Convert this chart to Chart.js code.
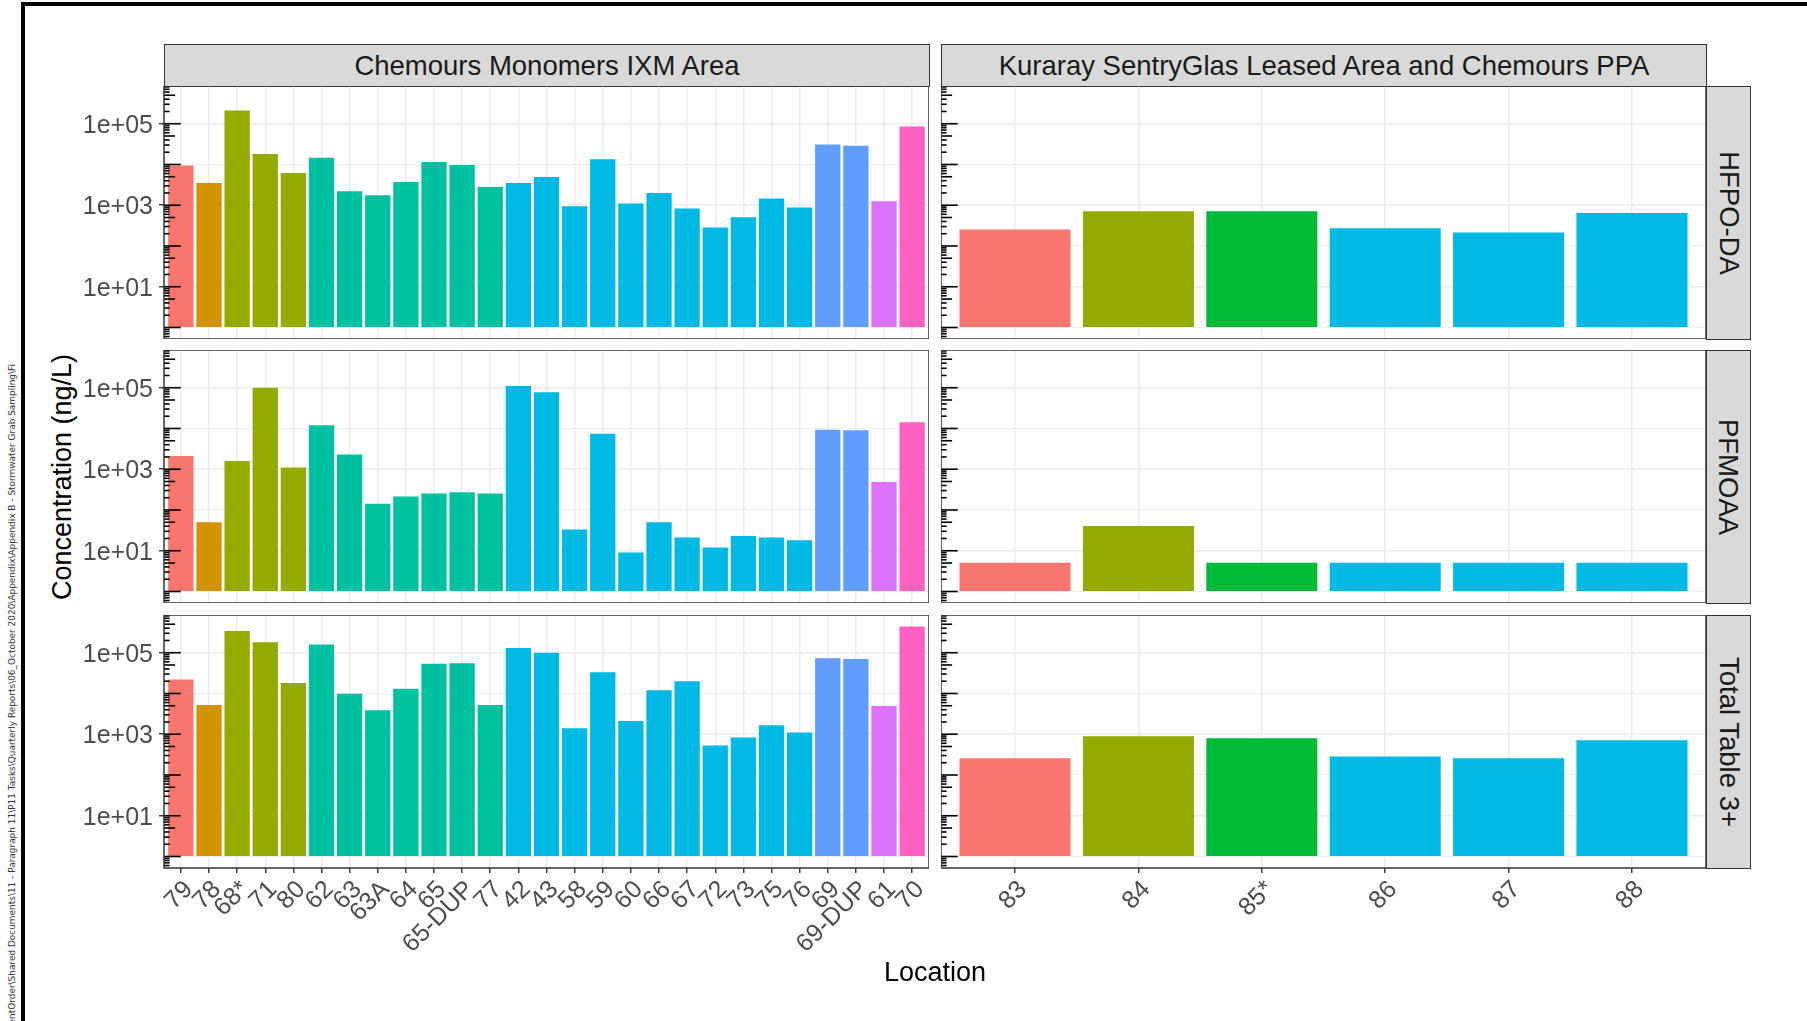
<!DOCTYPE html>
<html>
<head>
<meta charset="utf-8">
<title>Concentration by Location</title>
<script src="https://cdn.jsdelivr.net/npm/chart.js@4.4.0/dist/chart.umd.min.js"></script>
<style>
  body { margin: 0; width: 1807px; height: 1021px; background: #fff; overflow: hidden; position: relative;
         font-family: "Liberation Sans", Arial, sans-serif; }
  canvas { position: absolute; }
  .frame { position: absolute; background: #000; }
  .strip { position: absolute; box-sizing: border-box; background: #d9d9d9; border: 1.5px solid #333;
           color: #1a1a1a; font-size: 27.5px; display: flex; align-items: center; justify-content: center; white-space: nowrap; }
  .strip.side span { transform: rotate(90deg); }
  .title { position: absolute; color: #000; font-size: 27px; white-space: nowrap; transform: translate(-50%, -50%); }
  .path { position: absolute; font-family: "DejaVu Sans", sans-serif; font-size: 8.95px; color: #333; white-space: nowrap;
          transform-origin: 0 0; transform: rotate(-90deg) translate(-100%, -50%); }
</style>
</head>
<body>
<div class="frame" style="left:21px; top:2px; width:1786px; height:4px;"></div>
<div class="frame" style="left:21px; top:2px; width:4px; height:1019px;"></div>
<div class="path" style="left:12px; top:364px;">entOrder\Shared Documents\11 - Paragraph 11\P11 Tasks\Quarterly Reports\06_October 2020\Appendix\Appendix B - Stormwater Grab Sampling\Fi</div>

<script>
const leftLocations = ['79', '78', '68*', '71', '80', '62', '63', '63A', '64', '65', '65-DUP', '77', '42', '43',
    '58', '59', '60', '66', '67', '72', '73', '75', '76', '69', '69-DUP', '61', '70'];
const rightLocations = ['83', '84', '85*', '86', '87', '88'];

// fill group of each location (index into palette)
const leftGroups = [0, 1, 2, 2, 2, 4, 4, 4, 4, 4, 4, 4, 5, 5, 5, 5, 5, 5, 5, 5, 5, 5, 5, 6, 6, 7, 8];
const rightGroups = [0, 2, 3, 5, 5, 5];

const hfpoLeft = [9500, 3500, 210000, 18000, 6200, 14700, 2200, 1760, 3700, 11500, 9700, 2800, 3500, 4900,
    950, 13400, 1100, 2000, 830, 284, 508, 1460, 877, 31000, 29000, 1250, 86000];
const hfpoRight = [254, 713, 713, 273, 214, 649];

const pfmoaLeft = [2100, 50, 1600, 100000, 1100, 12000, 2300, 142, 214, 253, 272, 253, 110000, 77000,
    33, 7400, 9.1, 50, 21, 12, 23, 21, 18, 9300, 9000, 487, 14300];
const pfmoaRight = [5.1, 40.5, 5.1, 5.1, 5.1, 5.1];

const totalLeft = [22000, 5200, 340000, 180000, 18000, 160000, 9900, 3900, 13000, 54000, 55000, 5200, 130000, 100000,
    1400, 33000, 2100, 12000, 20000, 527, 828, 1660, 1100, 73000, 70000, 4900, 440000];
const totalRight = [258, 893, 798, 284, 258, 713];

const yTickValues = [1, 10, 100, 1000, 10000, 100000];
const yTickLabels = ['', '1e+01', '', '1e+03', '', '1e+05'];

const facetCols = ['Chemours Monomers IXM Area', 'Kuraray SentryGlas Leased Area and Chemours PPA'];
const facetRows = ['HFPO-DA', 'PFMOAA', 'Total Table 3+'];

const palette = ['#F8766D', '#D39200', '#93AA00', '#00BA38', '#00C19F', '#00B9E3', '#619CFF', '#DB72FB', '#FF61C3'];

// layout
const colLeft = [164, 941];
const panelW = 765;
const rowTop = [86, 350, 615];
const panelH = 253;
const axisW = 84;
const axisH = 120;
const fontFamily = '"Liberation Sans", Arial, sans-serif';

// ggplot style 5% expansion of the log range, bars start at 1
const seriesTable = [[hfpoLeft, hfpoRight], [pfmoaLeft, pfmoaRight], [totalLeft, totalRight]];
const maxLog = Math.log10(Math.max(...seriesTable.flat(2)));
const yMin = Math.pow(10, -0.05 * maxLog);
const yMax = Math.pow(10, 1.05 * maxLog);

function isMajor(v) {
    return v === 10 || v === 1000 || v === 100000;
}

// keep the plot area fixed: no extra room for overflowing labels
function fixSize(axis, size) {
    if (axis.isHorizontal()) {
        axis.height = size;
    } else {
        axis.width = size;
    }
    axis.paddingTop = 0;
    axis.paddingBottom = 0;
    axis.paddingLeft = 0;
    axis.paddingRight = 0;
}

const logTicks = {
    id: 'logTicks',
    afterDatasetsDraw(chart) {
        const { ctx, chartArea: a, scales: { y } } = chart;
        ctx.save();
        ctx.strokeStyle = '#000';
        ctx.lineWidth = 1.6;
        for (let k = -1; k <= 6; k++) {
            for (let m = 1; m <= 9; m++) {
                const v = m * Math.pow(10, k);
                if (v < yMin || v > yMax) continue;
                const py = y.getPixelForValue(v);
                const len = m === 1 ? 16.7 : (m === 5 ? 11.1 : 5.6);
                ctx.beginPath();
                ctx.moveTo(a.left, py);
                ctx.lineTo(a.left + len, py);
                ctx.stroke();
            }
        }
        ctx.restore();
    }
};

const panelBorder = {
    id: 'panelBorder',
    afterDraw(chart) {
        const { ctx, chartArea: a } = chart;
        ctx.save();
        ctx.strokeStyle = '#333';
        ctx.lineWidth = 1.5;
        ctx.strokeRect(a.left, a.top, a.right - a.left, a.bottom - a.top);
        ctx.restore();
    }
};

function addDiv(cls, style, text, inner) {
    const d = document.createElement('div');
    d.className = cls;
    d.style.cssText = style;
    if (inner) {
        const s = document.createElement('span');
        s.textContent = text;
        d.appendChild(s);
    } else {
        d.textContent = text;
    }
    document.body.appendChild(d);
}

function drawPanel(row, col) {
    const labels = col === 0 ? leftLocations : rightLocations;
    const groups = col === 0 ? leftGroups : rightGroups;
    const values = seriesTable[row][col];
    const showY = col === 0;
    const showX = row === 2;

    const canvas = document.createElement('canvas');
    canvas.width = panelW + (showY ? axisW : 0);
    canvas.height = panelH + (showX ? axisH : 0);
    canvas.style.left = (colLeft[col] - (showY ? axisW : 0)) + 'px';
    canvas.style.top = rowTop[row] + 'px';
    document.body.appendChild(canvas);

    new Chart(canvas.getContext('2d'), {
        type: 'bar',
        data: {
            datasets: [{
                data: values.map((v, i) => ({ x: i, y: v })),
                backgroundColor: groups.map(g => palette[g]),
                base: 1,
                categoryPercentage: 1,
                barPercentage: 0.9
            }]
        },
        options: {
            responsive: false,
            animation: false,
            layout: { padding: 0, autoPadding: false },
            plugins: {
                legend: { display: false },
                tooltip: { enabled: false }
            },
            scales: {
                x: {
                    type: 'linear',
                    min: -0.6,
                    max: labels.length - 0.4,
                    offset: false,
                    afterBuildTicks: axis => { axis.ticks = labels.map((l, i) => ({ value: i })); },
                    afterFit: axis => fixSize(axis, showX ? axisH : 0),
                    grid: { offset: false, color: '#ebebeb', lineWidth: 1.5, drawTicks: showX, tickLength: 5,
                            tickColor: '#333', tickWidth: 1.4 },
                    border: { display: false },
                    ticks: {
                        display: showX,
                        autoSkip: false,
                        maxRotation: 45,
                        minRotation: 45,
                        padding: 2,
                        labelOffset: 8,
                        color: '#4d4d4d',
                        font: { family: fontFamily, size: 25 },
                        callback: v => labels[v]
                    }
                },
                y: {
                    type: 'logarithmic',
                    min: yMin,
                    max: yMax,
                    afterBuildTicks: axis => { axis.ticks = yTickValues.map(v => ({ value: v })); },
                    afterFit: axis => fixSize(axis, showY ? axisW : 0),
                    grid: {
                        color: '#ebebeb',
                        lineWidth: c => (c.tick && isMajor(c.tick.value)) ? 1.5 : 0.8,
                        drawTicks: showY,
                        tickLength: 5,
                        tickColor: c => (c.tick && isMajor(c.tick.value)) ? '#333' : 'rgba(0,0,0,0)',
                        tickWidth: 1.4
                    },
                    border: { display: false },
                    ticks: {
                        display: showY,
                        padding: 6,
                        labelOffset: 2,
                        color: '#4d4d4d',
                        font: { family: fontFamily, size: 25 },
                        callback: (v, i) => yTickLabels[i]
                    }
                }
            }
        },
        plugins: [logTicks, panelBorder]
    });
}

// facet strips
facetCols.forEach((name, c) => {
    addDiv('strip', `left:${colLeft[c]}px; top:44px; width:${panelW + 1}px; height:43px;`, name, false);
});
facetRows.forEach((name, r) => {
    addDiv('strip side', `left:${colLeft[1] + panelW}px; top:${rowTop[r]}px; width:45px; height:${panelH + 1}px;`, name, true);
});

for (let r = 0; r < 3; r++) {
    for (let c = 0; c < 2; c++) {
        drawPanel(r, c);
    }
}

// axis titles
addDiv('title', `left:${(colLeft[0] + colLeft[1] + panelW) / 2}px; top:972px;`, 'Location', false);
addDiv('title', `left:62px; top:${(rowTop[0] + rowTop[2] + panelH) / 2}px; transform:translate(-50%,-50%) rotate(-90deg);`,
    'Concentration (ng/L)', false);
</script>
</body>
</html>
